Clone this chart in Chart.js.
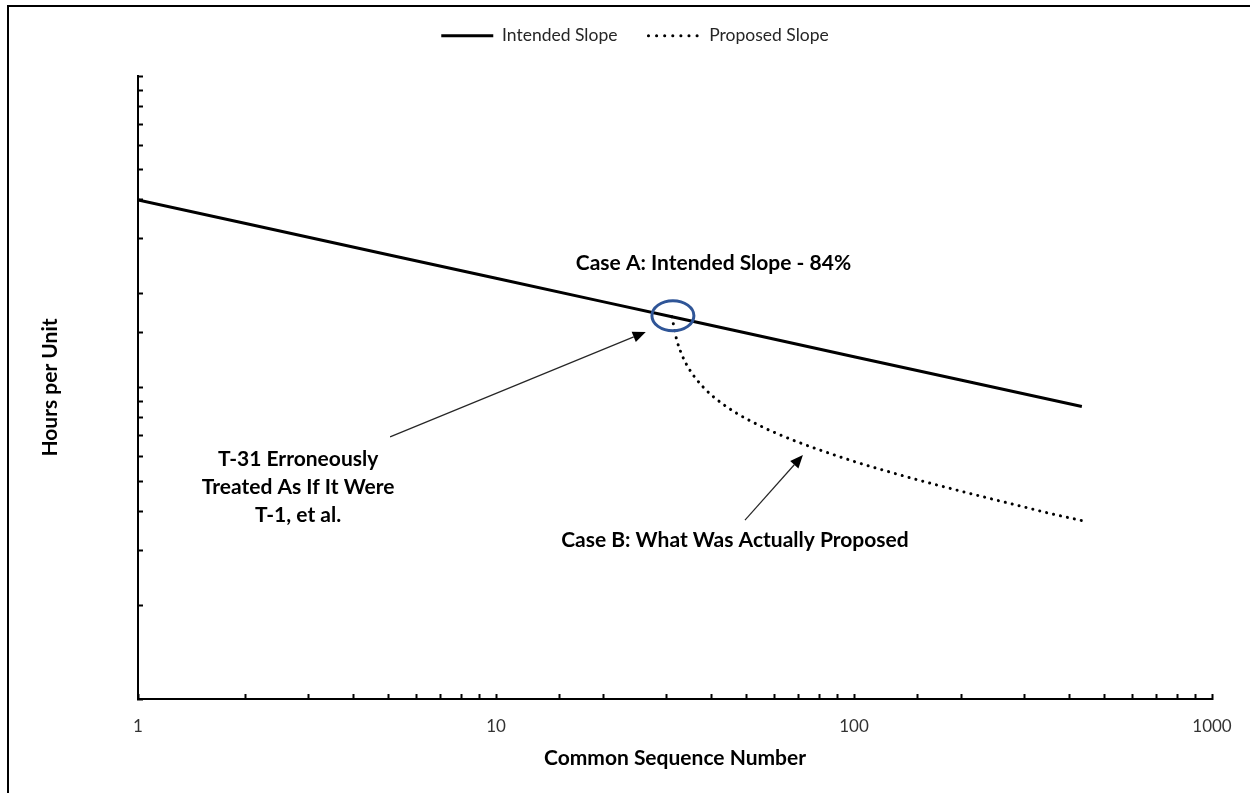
<!DOCTYPE html>
<html>
<head>
<meta charset="utf-8">
<script src="https://cdn.jsdelivr.net/npm/chart.js@4.4.1/dist/chart.umd.min.js"></script>
<style>
  html, body { margin: 0; padding: 0; background: #fff; }
  #wrap { position: relative; width: 1250px; height: 793px; overflow: hidden; }
</style>
</head>
<body>
<div id="wrap"><canvas id="chart" width="1250" height="793"></canvas></div>
<script>
// Unit numbers and hours per unit on the 84% learning curve
const intendedUnits = [1, 2, 5, 10, 20, 31, 50, 100, 200, 433];
const intendedHours = [40, 33.6, 26.68, 22.42, 18.83, 16.87, 14.96, 12.56, 10.55, 8.69];

// Unit numbers and hours per unit when unit 31 is restarted as unit 1
const proposedUnits = [31, 32, 33, 34, 35, 36, 38, 40, 43, 47, 50, 55, 60, 70, 80, 100, 120, 150, 200, 250, 300, 350, 433];
const proposedHours = [16.87, 14.17, 12.80, 11.90, 11.25, 10.75, 10.00, 9.45, 8.85, 8.27, 7.94, 7.51, 7.17, 6.67, 6.31, 5.79, 5.44, 5.06, 4.64, 4.35, 4.13, 3.95, 3.74];

// Labelled ticks on the unit axis
const xTickLabels = [1, 10, 100, 1000];

const seriesNames = ['Intended Slope', 'Proposed Slope'];

// Callouts, placed in data units (unit number, hours)
const callouts = [
  { lines: ['Case A: Intended Slope - 84%'], x: 40.5, y: 25.1 },
  { lines: ['T-31 Erroneously', 'Treated As If It Were', 'T-1, et al.'], x: 2.80, y: 4.79 },
  { lines: ['Case B: What Was Actually Proposed'], x: 46.5, y: 3.24 }
];
const pointers = [
  { from: [5.06, 6.94], to: [26.2, 15.08] },
  { from: [49.6, 3.75], to: [72.0, 6.07] }
];

const FONT = 'Lato, "Open Sans", sans-serif';
const PLOT_TOP = 76;      // top edge of the plot area
const PAD_TOP = -4;
const LEGEND_SHIFT = 25;  // legend sits a little right of the page centre

const toPoints = (xs, ys) => xs.map((x, i) => ({ x: x, y: ys[i] }));

// White page with the frame lines along the top and left edges
const framePlugin = {
  id: 'frame',
  beforeDraw(chart) {
    const ctx = chart.ctx;
    ctx.save();
    ctx.fillStyle = '#fff';
    ctx.fillRect(0, 0, chart.width, chart.height);
    ctx.fillStyle = '#000';
    ctx.fillRect(7, 5, chart.width - 7, 2);
    ctx.fillRect(7, 5, 2, chart.height - 5);
    ctx.restore();
  }
};

// Leave room under the legend so the plot starts at PLOT_TOP, and nudge it right
const legendSpacePlugin = {
  id: 'legendSpace',
  beforeLayout(chart) {
    const lg = chart.legend;
    if (lg && !lg._spaced) {
      const fit = lg.fit.bind(lg);
      lg.fit = function () {
        fit();
        this.height = PLOT_TOP - PAD_TOP;
      };
      lg._spaced = true;
    }
  },
  afterLayout(chart) {
    const lg = chart.legend;
    if (lg) {
      lg.left += LEGEND_SHIFT;
      lg.right += LEGEND_SHIFT;
    }
  }
};

// Ring around the restart point, arrows and callout text
const calloutPlugin = {
  id: 'callouts',
  afterDatasetsDraw(chart) {
    const ctx = chart.ctx;
    const xs = chart.scales.x, ys = chart.scales.y;
    const px = v => xs.getPixelForValue(v);
    const py = v => ys.getPixelForValue(v);
    ctx.save();

    // ring at the first proposed point
    const cx = px(proposedUnits[0]) + 1, cy = py(proposedHours[0]) - 1;
    ctx.beginPath();
    ctx.ellipse(cx, cy, 21, 15, 0, 0, Math.PI * 2);
    ctx.lineWidth = 3;
    ctx.strokeStyle = '#2F5597';
    ctx.stroke();

    // arrows
    pointers.forEach(p => {
      const x1 = px(p.from[0]), y1 = py(p.from[1]);
      const x2 = px(p.to[0]), y2 = py(p.to[1]);
      const a = Math.atan2(y2 - y1, x2 - x1);
      const len = 13, hw = 5.5;
      const bx = x2 - len * Math.cos(a), by = y2 - len * Math.sin(a);
      ctx.beginPath();
      ctx.moveTo(x1, y1);
      ctx.lineTo(bx, by);
      ctx.lineWidth = 1.2;
      ctx.strokeStyle = '#262626';
      ctx.stroke();
      ctx.beginPath();
      ctx.moveTo(x2, y2);
      ctx.lineTo(bx + hw * Math.sin(a), by - hw * Math.cos(a));
      ctx.lineTo(bx - hw * Math.sin(a), by + hw * Math.cos(a));
      ctx.closePath();
      ctx.fillStyle = '#000';
      ctx.fill();
    });

    // callout text
    ctx.fillStyle = '#000';
    ctx.font = 'bold 21px ' + FONT;
    ctx.textAlign = 'center';
    ctx.textBaseline = 'middle';
    const lineGap = 28;
    callouts.forEach(c => {
      const x = px(c.x), y = py(c.y);
      const y0 = y - (c.lines.length - 1) * lineGap / 2;
      c.lines.forEach((t, i) => ctx.fillText(t, x, y0 + i * lineGap));
    });
    ctx.restore();
  }
};

const axisGrid = {
  display: true,
  drawOnChartArea: false,
  drawTicks: true,
  tickLength: -5,
  tickColor: '#000',
  tickWidth: 2
};

new Chart(document.getElementById('chart'), {
  type: 'line',
  data: {
    datasets: [
      {
        label: seriesNames[0],
        data: toPoints(intendedUnits, intendedHours),
        borderColor: '#000',
        backgroundColor: '#000',
        borderWidth: 3,
        pointRadius: 0,
        tension: 0
      },
      {
        label: seriesNames[1],
        data: toPoints(proposedUnits, proposedHours),
        borderColor: '#000',
        backgroundColor: '#000',
        borderWidth: 3,
        borderDash: [0.1, 7],
        borderCapStyle: 'round',
        cubicInterpolationMode: 'monotone',
        pointRadius: 0
      }
    ]
  },
  options: {
    responsive: false,
    animation: false,
    devicePixelRatio: 1,
    layout: { padding: { top: PAD_TOP, left: 8, right: 38, bottom: 0 } },
    plugins: {
      tooltip: { enabled: false },
      legend: {
        position: 'top',
        align: 'center',
        labels: {
          usePointStyle: true,
          pointStyle: 'line',
          pointStyleWidth: 52,
          padding: 31,
          color: '#262626',
          font: { family: FONT, size: 17.5 },
          generateLabels(chart) {
            const items = Chart.defaults.plugins.legend.labels.generateLabels(chart);
            items.forEach(item => {
              const ds = chart.data.datasets[item.datasetIndex];
              item.lineDash = ds.borderDash ? [0.1, 8] : [];
              item.lineCap = ds.borderCapStyle || 'butt';
              item.lineWidth = ds.borderWidth;
              item.strokeStyle = ds.borderColor;
            });
            return items;
          }
        }
      }
    },
    scales: {
      x: {
        type: 'logarithmic',
        min: 1,
        max: 1000,
        afterFit: s => { s.height = 94; s.paddingLeft = 0; s.paddingRight = 0; },
        border: { display: true, color: '#000', width: 2 },
        grid: axisGrid,
        ticks: {
          autoSkip: false,
          maxRotation: 0,
          padding: 22,
          color: '#333',
          font: { family: FONT, size: 17 },
          callback: v => xTickLabels.includes(v) ? String(v) : ''
        },
        title: {
          display: true,
          text: 'Common Sequence Number',
          color: '#000',
          font: { family: FONT, size: 21, weight: 'bold' },
          padding: { top: 0, bottom: 22 }
        }
      },
      y: {
        type: 'logarithmic',
        min: 1,
        max: 100,
        afterFit: s => { s.width = 130; },
        border: { display: true, color: '#000', width: 2 },
        grid: axisGrid,
        ticks: { display: false },
        title: {
          display: true,
          text: 'Hours per Unit',
          color: '#000',
          font: { family: FONT, size: 21, weight: 'bold' },
          padding: { top: 30, bottom: 0 }
        }
      }
    }
  },
  plugins: [framePlugin, legendSpacePlugin, calloutPlugin]
});
</script>
</body>
</html>
